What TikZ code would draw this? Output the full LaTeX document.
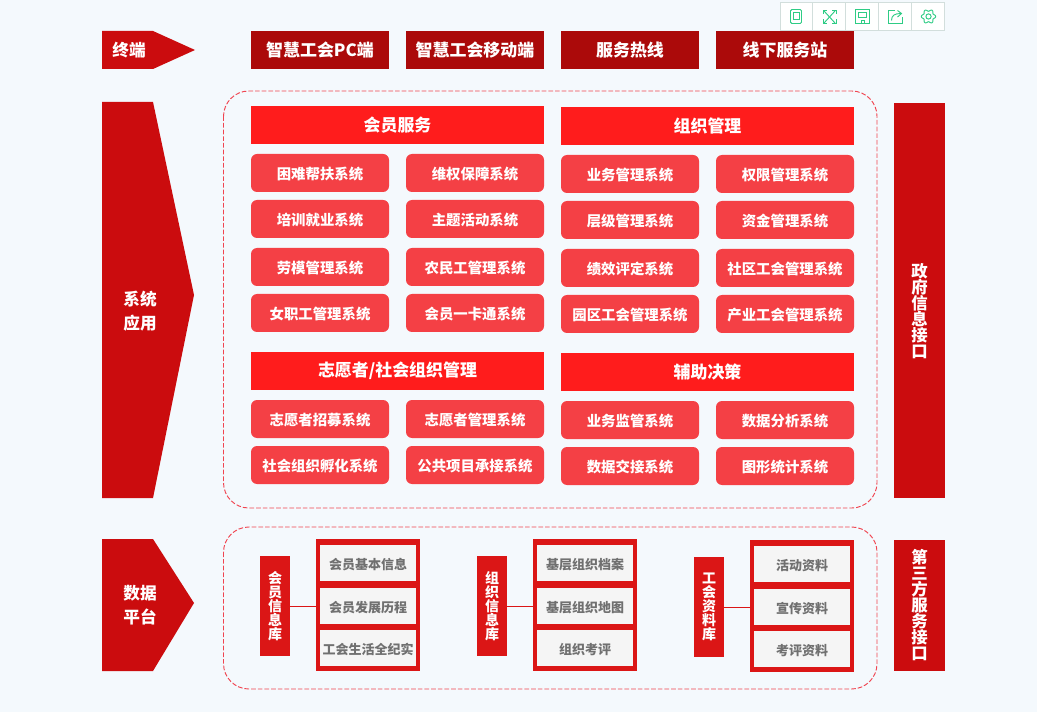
\documentclass[tikz,border=0pt]{standalone}
\usepackage{fontspec}
\setmainfont{Noto Sans CJK SC}
\definecolor{pagebg}{HTML}{F4F9FD}
\definecolor{arrowred}{HTML}{CB0C0E}
\definecolor{darkred}{HTML}{AB0A0A}
\definecolor{headred}{HTML}{FF1C1C}
\definecolor{btnred}{HTML}{F44045}
\definecolor{framered}{HTML}{DB1616}
\definecolor{dashred}{HTML}{F04450}
\definecolor{cellgrey}{HTML}{F5F5F5}
\definecolor{celltext}{HTML}{707070}
\definecolor{toolgreen}{HTML}{2ECC85}
\definecolor{toolline}{HTML}{D2DEDC}
\tikzset{
 box/.style={inner sep=0pt,outer sep=0pt,text=white,font=\bfseries},
 termbox/.style={box,fill=darkred,minimum width=103.5pt,minimum height=28.5pt,font=\fontsize{12.7}{14}\bfseries\selectfont},
 headbox/.style={box,fill=headred,minimum width=219.75pt,minimum height=28.5pt,font=\fontsize{12.7}{14}\bfseries\selectfont},
 sysbtn/.style={box,fill=btnred,rounded corners=4.5pt,minimum width=103.5pt,minimum height=28.5pt,text height=9.3pt,text depth=0pt,font=\fontsize{10.8}{13}\bfseries\selectfont},
 sidebox/.style={box,fill=arrowred,minimum width=38.25pt},
 sidelabel/.style={box,align=center,font=\fontsize{12.3}{12}\bfseries\selectfont},
 libbox/.style={box,fill=framered,minimum width=22.5pt,minimum height=75pt,align=center,font=\fontsize{10.5}{10.4}\bfseries\selectfont},
 framebox/.style={box,fill=framered,minimum width=78pt,minimum height=99pt},
 cellbox/.style={box,fill=cellgrey,text=celltext,minimum width=72pt,minimum height=27pt,text height=9.6pt,text depth=0pt,font=\fontsize{9.75}{12}\bfseries\selectfont},
 arrowlabel/.style={box,align=center,font=\fontsize{12.5}{18}\bfseries\selectfont},
 dashbox/.style={draw=dashred,line width=0.7pt,dash pattern=on 3.5pt off 1.5pt,rounded corners=19pt},
 toolicon/.style={draw=toolgreen,line width=0.7pt},
}
\begin{document}
\begin{tikzpicture}[x=0.75pt,y=-0.75pt]
 \useasboundingbox (0,0) rectangle (1037,712);
 \fill[pagebg] (0,0) rectangle (1037,712);
 % left arrows
 \fill[arrowred] (102,31) -- (153,31) -- (195,50) -- (153,69) -- (102,69) -- cycle;
 \fill[arrowred] (102,102) -- (153,102) -- (194,295) -- (153,498) -- (102,498) -- cycle;
 \fill[arrowred] (102,539) -- (153,539) -- (194,603) -- (153,671) -- (102,671) -- cycle;
 \node[arrowlabel] (endlabel) at (129,50) {终端};
 \node[arrowlabel] (syslabel) at (140,311) {系统\\应用};
 \node[arrowlabel] (datalabel) at (140,605) {数据\\平台};
 % terminals
 \node[termbox] (pc) at (320,50) {智慧工会PC端};
 \node[termbox] (mobile) at (475,50) {智慧工会移动端};
 \node[termbox] (hotline) at (630,50) {服务热线};
 \node[termbox] (station) at (785,50) {线下服务站};
 % dashed groups
 \draw[dashbox] (223.5,91) rectangle (877,508);
 \draw[dashbox] (223.5,527) rectangle (877,689);
 % member services
 \node[headbox] (member) at (397.5,125) {会员服务};
 \node[sysbtn] (m1) at (320,173) {困难帮扶系统};
 \node[sysbtn] (m2) at (475,173) {维权保障系统};
 \node[sysbtn] (m3) at (320,219) {培训就业系统};
 \node[sysbtn] (m4) at (475,219) {主题活动系统};
 \node[sysbtn] (m5) at (320,267) {劳模管理系统};
 \node[sysbtn] (m6) at (475,267) {农民工管理系统};
 \node[sysbtn] (m7) at (320,313) {女职工管理系统};
 \node[sysbtn] (m8) at (475,313) {会员一卡通系统};
 % organisation
 \node[headbox] (org) at (707.5,126) {组织管理};
 \node[sysbtn] (o1) at (630,174) {业务管理系统};
 \node[sysbtn] (o2) at (785,174) {权限管理系统};
 \node[sysbtn] (o3) at (630,220) {层级管理系统};
 \node[sysbtn] (o4) at (785,220) {资金管理系统};
 \node[sysbtn] (o5) at (630,268) {绩效评定系统};
 \node[sysbtn] (o6) at (785,268) {社区工会管理系统};
 \node[sysbtn] (o7) at (630,314) {园区工会管理系统};
 \node[sysbtn] (o8) at (785,314) {产业工会管理系统};
 % volunteers
 \node[headbox] (vol) at (397.5,371) {志愿者/社会组织管理};
 \node[sysbtn] (v1) at (320,419) {志愿者招募系统};
 \node[sysbtn] (v2) at (475,419) {志愿者管理系统};
 \node[sysbtn] (v3) at (320,465) {社会组织孵化系统};
 \node[sysbtn] (v4) at (475,465) {公共项目承接系统};
 % decision support
 \node[headbox] (aid) at (707.5,372) {辅助决策};
 \node[sysbtn] (a1) at (630,420) {业务监管系统};
 \node[sysbtn] (a2) at (785,420) {数据分析系统};
 \node[sysbtn] (a3) at (630,466) {数据交接系统};
 \node[sysbtn] (a4) at (785,466) {图形统计系统};
 % right side
 \node[sidebox,minimum height=296.25pt] (gov) at (919.5,300.5) {};
 \node[sidelabel] (govlabel) at (919.5,311) {政\\府\\信\\息\\接\\口};
 \node[sidebox,minimum height=98.25pt] (third) at (919.5,605.5) {};
 \node[sidelabel] (thirdlabel) at (919.5,605.5) {第\\三\\方\\服\\务\\接\\口};
 % member library
 \node[libbox] (lib1) at (275,606) {会\\员\\信\\息\\库};
 \node[framebox] (frame1) at (368,605) {};
 \node[cellbox] (c11) at (368,563) {会员基本信息};
 \node[cellbox] (c12) at (368,606) {会员发展历程};
 \node[cellbox] (c13) at (368,648) {工会生活全纪实};
 \draw[framered,line width=0.75pt] (lib1.east) -- (lib1.east -| frame1.west);
 % organisation library
 \node[libbox] (lib2) at (492,606) {组\\织\\信\\息\\库};
 \node[framebox] (frame2) at (585,605) {};
 \node[cellbox] (c21) at (585,563) {基层组织档案};
 \node[cellbox] (c22) at (585,606) {基层组织地图};
 \node[cellbox] (c23) at (585,648) {组织考评};
 \draw[framered,line width=0.75pt] (lib2.east) -- (lib2.east -| frame2.west);
 % union library
 \node[libbox] (lib3) at (709,607) {工\\会\\资\\料\\库};
 \node[framebox] (frame3) at (802,606) {};
 \node[cellbox] (c31) at (802,564) {活动资料};
 \node[cellbox] (c32) at (802,607) {宣传资料};
 \node[cellbox] (c33) at (802,649) {考评资料};
 \draw[framered,line width=0.75pt] (lib3.east) -- (lib3.east -| frame3.west);
 % toolbar
 \draw[toolline,fill=white,line width=0.75pt] (780,2.5) rectangle (944.5,30.5);
 \draw[toolline,line width=0.6pt] (812.5,2.5) -- (812.5,30.5);
 \draw[toolline,line width=0.6pt] (845.5,2.5) -- (845.5,30.5);
 \draw[toolline,line width=0.6pt] (878.5,2.5) -- (878.5,30.5);
 \draw[toolline,line width=0.6pt] (911.5,2.5) -- (911.5,30.5);
 \draw[toolicon,rounded corners=1pt] (790.5,9.5) rectangle (801.5,23.5);
 \draw[toolicon] (793,12) rectangle (799,19);
 \draw[toolicon] (824,11) -- (835,23);
 \draw[toolicon] (835,11) -- (824,23);
 \draw[toolicon] (823,14) -- (823,10.5) -- (827,10.5);
 \draw[toolicon] (832,10.5) -- (836,10.5) -- (836,14);
 \draw[toolicon] (823,19.5) -- (823,23.5) -- (827,23.5);
 \draw[toolicon] (832,23.5) -- (836,23.5) -- (836,19.5);
 \draw[toolicon] (855.5,9.5) rectangle (869,23.5);
 \draw[toolicon] (858.5,12) rectangle (866,17.5);
 \draw[toolicon] (861,23.5) -- (861,20.5) -- (864,20.5) -- (864,23.5);
 \draw[toolicon] (895,10) -- (888.5,10) -- (888.5,23.5) -- (902,23.5) -- (902,17);
 \draw[toolicon] (891.5,20.5) .. controls (891.5,15.5) and (894.5,13.5) .. (901,13.5);
 \draw[toolicon] (897.5,10.5) -- (901.5,13.5) -- (897.5,17);
 \draw[toolicon] plot[domain=0:360,samples=61,smooth] ({928.5+(6.2+1.0*cos(6*\x))*cos(\x)},{16.5+(6.2+1.0*cos(6*\x))*sin(\x)});
 \draw[toolicon] (928.5,16.5) circle (2.6);
\end{tikzpicture}
\end{document}
